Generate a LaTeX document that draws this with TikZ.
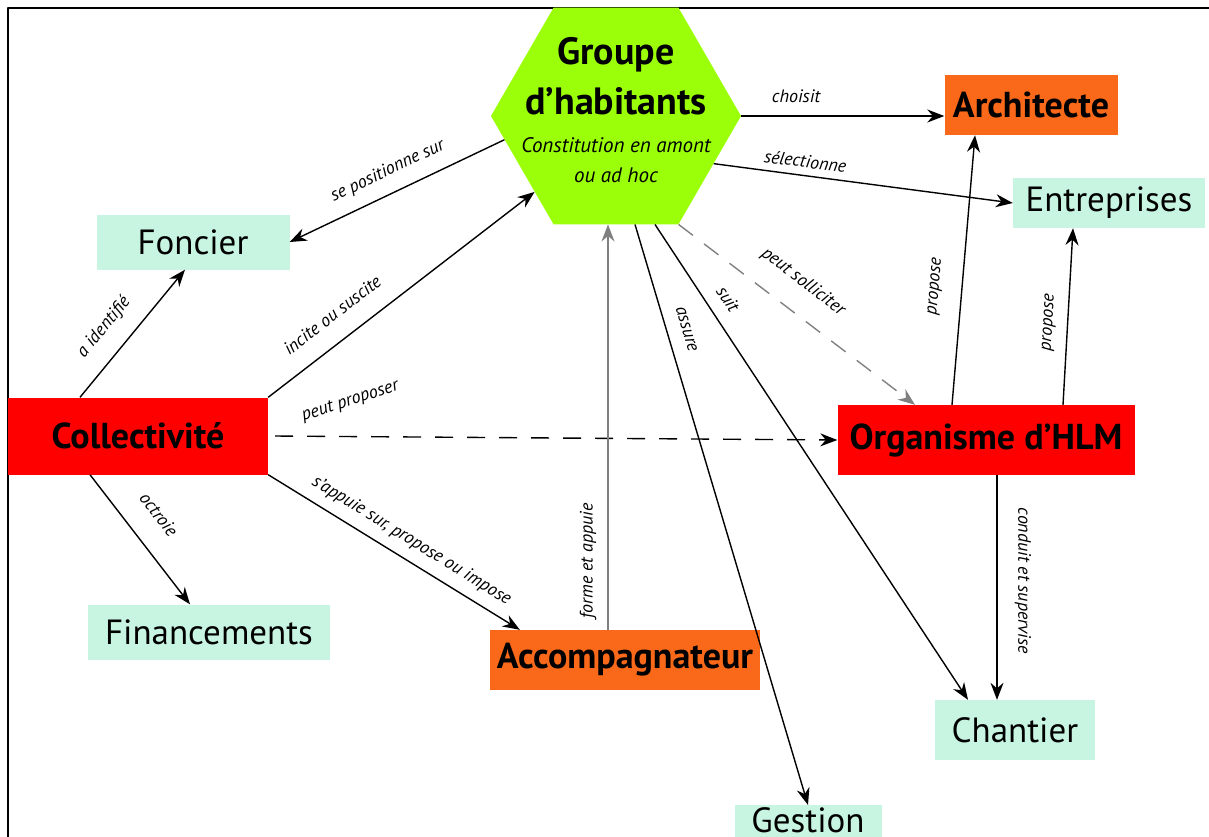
\documentclass[tikz,border=0pt]{standalone}
\usepackage{fontspec}
\setmainfont{PT Sans}
\usetikzlibrary{arrows.meta,shapes.geometric}
\definecolor{menthe}{RGB}{200,245,226}
\definecolor{rouge}{RGB}{255,0,0}
\definecolor{orangeb}{RGB}{250,105,25}
\definecolor{citron}{RGB}{155,255,10}
\tikzset{
  acteur/.style={fill=rouge,font=\fontsize{36}{38}\selectfont\bfseries,inner sep=0pt},
  relais/.style={fill=orangeb,font=\fontsize{36}{38}\selectfont\bfseries,inner sep=0pt},
  objet/.style={fill=menthe,font=\fontsize{35}{37}\selectfont,inner sep=0pt},
  lien/.style={font=\fontsize{18}{20}\selectfont\itshape,sloped,inner sep=1pt},
  fleche/.style={-{Stealth[length=17pt,width=13pt]},line width=1.4pt},
  pointille/.style={dash pattern=on 18pt off 14pt}
}
\begin{document}
\begin{tikzpicture}[x=1pt,y=-1pt,line join=round]
	\useasboundingbox (0,0) rectangle (1209,836);
	\clip (0,0) rectangle (1209,836);
	\draw[line width=1.5pt] (8,8) rectangle (1220,850);
	
	% groupe d'habitants
	\node[regular polygon,regular polygon sides=6,minimum size=250pt,fill=citron,inner sep=0pt] (groupe) at (616,116) {};
	\node[align=center,font=\fontsize{38}{50}\selectfont\bfseries] (titre) at (616,76) {Groupe\\d’habitants};
	\node[align=center,font=\fontsize{21}{30}\selectfont\itshape] (soustitre) at (616,160) {Constitution en amont\\ou ad hoc};
	
	% acteurs et objets
	\node[relais,minimum width=173pt,minimum height=60pt] (architecte) at (1031,105) {Architecte};
	\node[objet,minimum width=192pt,minimum height=50pt] (entreprises) at (1109,203) {Entreprises};
	\node[objet,minimum width=193pt,minimum height=55pt] (foncier) at (193,242) {Foncier};
	\node[acteur,minimum width=260pt,minimum height=77pt] (collectivite) at (138,436) {Collectivité};
	\node[acteur,minimum width=297pt,minimum height=70pt] (organisme) at (986,440) {Organisme d’HLM};
	\node[objet,minimum width=242pt,minimum height=55pt] (financements) at (209,632) {Financements};
	\node[relais,minimum width=270pt,minimum height=60pt] (accomp) at (625,660) {Accompagnateur};
	\node[objet,minimum width=160pt,minimum height=60pt] (chantier) at (1015,730) {Chantier};
	\node[objet,minimum width=147pt,text height=27pt,text depth=12pt,anchor=north] (gestion) at (808,805) {Gestion};
	
	% liens du groupe
	\draw[fleche] (groupe.east) -- (groupe.east -| architecte.west) node[lien,pos=0.27,above=12pt]{choisit};
	\draw[fleche] (groupe.-26) -- (entreprises.west) node[lien,pos=0.3,above=6pt]{sélectionne};
	\draw[fleche] (groupe.-168) -- (foncier.east) node[lien,pos=0.5,above=12pt]{se positionne sur};
	\draw[fleche] ([xshift=19pt]groupe.south) -- (gestion.north) node[lien,pos=0.19,above=13pt]{assure};
	\draw[fleche] ([xshift=39pt]groupe.south) -- ([xshift=-47pt]chantier.north) node[lien,pos=0.18,above=12pt]{suit};
	\draw[fleche,gray,pointille] (groupe.-60) -- ([xshift=-71pt]organisme.north) node[lien,black,pos=0.45,above=20pt]{peut solliciter};
	
	% liens de la collectivite
	\draw[fleche] ([xshift=-58pt]collectivite.north) -- ([xshift=-8pt]foncier.south) node[lien,pos=0.42,above=16pt]{a identifié};
	\draw[fleche] (collectivite.north east) -- (groupe.223) node[lien,pos=0.3,above=18pt]{incite ou suscite};
	\draw[fleche,pointille] ([xshift=7pt]collectivite.east) -- (organisme.west) node[pos=0.14,above=24pt,rotate=18,font=\fontsize{18}{20}\selectfont\itshape]{peut proposer};
	\draw[fleche] (collectivite.south east) -- ([xshift=30pt]accomp.north west) node[lien,pos=0.53,above=9pt]{s’appuie sur, propose ou impose};
	\draw[fleche] ([xshift=-48pt]collectivite.south) -- ([xshift=-19pt]financements.north) node[lien,pos=0.45,above=22pt]{octroie};
	
	% autres liens
	\draw[fleche,gray] ([xshift=-17pt]accomp.north) -- ([xshift=-17pt]accomp.north |- groupe.south) node[lien,black,pos=0.17,above=10pt]{forme et appuie};
	\draw[fleche] ([xshift=-34pt]organisme.north) -- ([xshift=-56pt]architecte.south) node[lien,pos=0.43,above=18pt]{propose};
	\draw[fleche] ([xshift=77pt]organisme.north) -- ([xshift=-36pt]entreprises.south) node[lien,pos=0.46,above=10pt]{propose};
	\draw[fleche] ([xshift=11pt]organisme.south) -- ([xshift=11pt]organisme.south |- chantier.north) node[lien,pos=0.47,above=16pt]{conduit et supervise};
\end{tikzpicture}
\end{document}
